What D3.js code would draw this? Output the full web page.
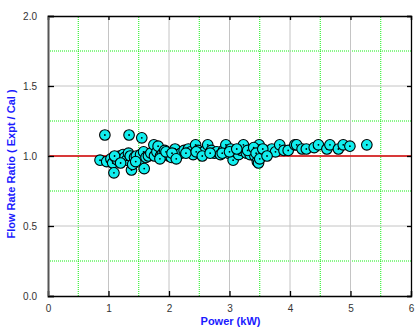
<!DOCTYPE html>
<html>
<head>
<meta charset="utf-8">
<script src="https://cdn.jsdelivr.net/npm/d3@7"></script>
<style>
  body { margin: 0; background: #fff; }
  svg { display: block; font-family: "Liberation Sans", Arial, sans-serif; }
</style>
</head>
<body>
<svg id="chart" width="415" height="330"></svg>
<script>
'use strict';

// data (power kW, ratio expt/cal)
const power = [
    0.86, 0.94, 0.97, 1.04, 1.07, 1.09, 1.12, 1.15, 1.18, 1.21,
    1.24, 1.27, 1.30, 1.33, 1.34, 1.36, 1.38, 1.40, 1.43, 1.46,
    1.50, 1.53, 1.55, 1.58, 1.59, 1.62, 1.66, 1.70, 1.75, 1.76,
    1.80, 1.82, 1.86, 1.90, 1.93, 1.96, 2.00, 2.04, 2.10, 2.15,
    2.20, 2.25, 2.32, 2.36, 2.40, 2.44, 2.48, 2.52, 2.58, 2.64,
    2.70, 2.75, 2.79, 2.85, 2.90, 2.94, 2.98, 3.02, 3.06, 3.10,
    3.15, 3.20, 3.23, 3.28, 3.34, 3.38, 3.42, 3.46, 3.48, 3.49,
    3.52, 3.58, 3.64, 3.70, 3.76, 3.83, 3.90, 3.97, 4.08, 4.11,
    4.20, 4.27, 4.40, 4.47, 4.61, 4.66, 4.80, 4.88, 4.99, 5.27,
    1.10, 1.20, 1.45, 1.85, 1.95, 2.05, 2.12, 2.28, 2.45, 2.55,
    2.68, 2.88, 3.00, 3.12, 3.30, 3.40, 3.44, 3.50, 3.55, 3.62
];
const ratio = [
    0.97, 1.15, 0.96, 0.98, 0.95, 0.88, 0.99, 0.97, 1.00, 0.98,
    1.01, 0.99, 0.97, 1.02, 1.15, 1.00, 0.90, 0.94, 0.99, 1.00,
    0.97, 1.01, 1.13, 1.03, 0.91, 0.99, 1.00, 1.02, 1.08, 1.00,
    1.03, 1.07, 1.00, 1.02, 1.04, 1.01, 1.00, 0.99, 1.05, 1.01,
    1.02, 1.04, 1.05, 1.03, 1.01, 1.08, 1.04, 1.02, 1.03, 1.08,
    1.04, 1.02, 1.03, 1.01, 1.04, 1.08, 1.02, 1.05, 0.97, 1.03,
    1.01, 1.04, 1.08, 1.02, 1.01, 1.04, 1.00, 0.96, 0.95, 1.08,
    1.03, 1.01, 1.02, 1.05, 1.03, 1.08, 1.04, 1.04, 1.08, 1.08,
    1.05, 1.05, 1.06, 1.08, 1.05, 1.08, 1.05, 1.08, 1.07, 1.08,
    1.00, 0.95, 0.96, 0.98, 1.03, 1.02, 0.98, 1.02, 1.03, 1.00,
    1.02, 1.02, 1.03, 1.05, 1.04, 1.06, 1.02, 0.98, 1.05, 1.00
];

const xTicks = [0, 1, 2, 3, 4, 5, 6];
const yTicks = [0, 0.5, 1.0, 1.5, 2.0];
const xMinor = [0.5, 1.5, 2.5, 3.5, 4.5, 5.5];
const yMinor = [0.25, 0.75, 1.25, 1.75];
const refRatio = 1.0;

const svg = d3.select('#chart');
const margin = { left: 48, top: 16, right: 4, bottom: 34 };
const W = 415, H = 330;

const x = d3.scaleLinear().domain([0, 6]).range([margin.left, W - margin.right]);
const y = d3.scaleLinear().domain([0, 2]).range([H - margin.bottom, margin.top]);

// minor grid (green dotted)
svg.append('g').selectAll('line').data(xMinor).join('line')
    .attr('x1', d => x(d)).attr('x2', d => x(d))
    .attr('y1', y(0)).attr('y2', y(2))
    .attr('stroke', '#11f011').attr('stroke-dasharray', '1,1');
svg.append('g').selectAll('line').data(yMinor).join('line')
    .attr('x1', x(0)).attr('x2', x(6))
    .attr('y1', d => y(d)).attr('y2', d => y(d))
    .attr('stroke', '#11f011').attr('stroke-dasharray', '1,1');

// major grid (gray)
svg.append('g').selectAll('line').data(xTicks.slice(1, -1)).join('line')
    .attr('x1', d => x(d)).attr('x2', d => x(d))
    .attr('y1', y(0)).attr('y2', y(2))
    .attr('stroke', '#c4c4c4');
svg.append('g').selectAll('line').data(yTicks.slice(1, -1)).join('line')
    .attr('x1', x(0)).attr('x2', x(6))
    .attr('y1', d => y(d)).attr('y2', d => y(d))
    .attr('stroke', '#c4c4c4');

// reference line
svg.append('line')
    .attr('x1', x(0)).attr('x2', x(6))
    .attr('y1', y(refRatio)).attr('y2', y(refRatio))
    .attr('stroke', '#d40000').attr('stroke-width', 1.5);

// axes with inward ticks
const axBottom = svg.append('g').attr('transform', `translate(0,${y(0)})`)
    .call(d3.axisBottom(x).tickValues(xTicks).tickSize(-5).tickPadding(9).tickFormat(d3.format('d')));
const axTop = svg.append('g').attr('transform', `translate(0,${y(2)})`)
    .call(d3.axisTop(x).tickValues(xTicks).tickSize(-4).tickFormat(''));
const axLeft = svg.append('g').attr('transform', `translate(${x(0)},0)`)
    .call(d3.axisLeft(y).tickValues(yTicks).tickSize(-6).tickPadding(11).tickFormat(d3.format('.1f')));
const axRight = svg.append('g').attr('transform', `translate(${x(6)},0)`)
    .call(d3.axisRight(y).tickValues(yTicks).tickSize(-4).tickFormat(''));

[axBottom, axTop, axLeft, axRight].forEach(g => {
    g.select('.domain').attr('stroke', '#000').attr('stroke-width', 1.3);
    g.selectAll('.tick line').attr('stroke', '#000').attr('stroke-width', 1.3);
    g.selectAll('.tick text').attr('font-size', 10).attr('fill', '#333')
        .attr('font-family', '"Liberation Sans", Arial, sans-serif');
});
axLeft.select('.domain').attr('stroke', '#555').attr('stroke-width', 2);

// points
const pts = svg.append('g').selectAll('g').data(power.map((p, i) => [p, ratio[i]])).join('g')
    .attr('transform', d => `translate(${x(d[0])},${y(d[1])})`);
pts.append('circle').attr('r', 5.3)
    .attr('fill', '#11eeee').attr('stroke', '#000').attr('stroke-width', 1.1);
pts.append('circle').attr('r', 0.9).attr('fill', '#000');

// axis titles
svg.append('text')
    .attr('x', (x(0) + x(6)) / 2 + 1).attr('y', 325)
    .attr('text-anchor', 'middle').attr('font-size', 11).attr('font-weight', 'bold')
    .attr('fill', '#1a1aff').text('Power (kW)');
svg.append('text')
    .attr('transform', `translate(15,${(y(0) + y(2)) / 2 + 8}) rotate(-90)`)
    .attr('text-anchor', 'middle').attr('font-size', 11).attr('font-weight', 'bold')
    .attr('fill', '#1a1aff').text('Flow Rate Ratio ( Expt / Cal )');
</script>
</body>
</html>
